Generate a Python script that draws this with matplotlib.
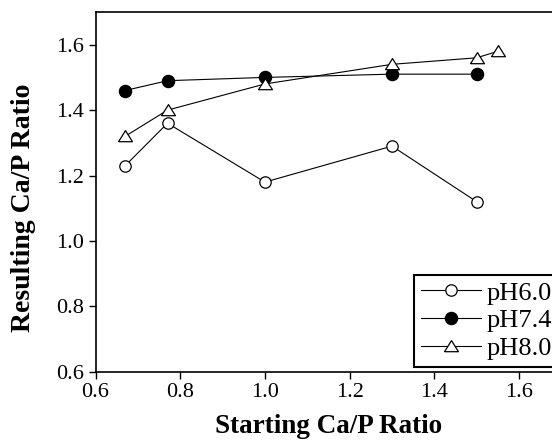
import matplotlib
matplotlib.use("Agg")
import matplotlib.pyplot as plt

plt.rcParams['font.family'] = ['Liberation Serif', 'DejaVu Serif']

# data
x_start = [0.67, 0.77, 1.0, 1.3, 1.5]
ph60 = [1.23, 1.36, 1.18, 1.29, 1.12]
ph74 = [1.46, 1.49, 1.50, 1.51, 1.51]
x_start80 = [0.67, 0.77, 1.0, 1.3, 1.5, 1.55]
ph80 = [1.32, 1.40, 1.48, 1.54, 1.56, 1.58]
labels = ['pH6.0', 'pH7.4', 'pH8.0']
xticks = [0.6, 0.8, 1.0, 1.2, 1.4, 1.6]
yticks = [0.6, 0.8, 1.0, 1.2, 1.4, 1.6]

W, H = 552, 444
fig = plt.figure(figsize=(W / 100, H / 100), dpi=100)
# axes runs past the right edge of the picture, like the cropped scan
left, right, top, bottom = 95.5, 561.4, 12, 371.8
ax = fig.add_axes([left / W, 1 - bottom / H, (right - left) / W, (bottom - top) / H])

# flatter triangle than matplotlib's '^'
tri = [(-1, -0.75), (1, -0.75), (0, 0.85), (-1, -0.75)]

ax.plot(x_start, ph60, '-o', color='black', lw=0.8, ms=8.2, mfc='white', mec='black', mew=0.9, label=labels[0])
ax.plot(x_start, ph74, '-o', color='black', lw=0.8, ms=8.8, mfc='black', mec='black', mew=0.9, label=labels[1])
ax.plot(x_start80, ph80, '-', marker=tri, color='black', lw=0.8, ms=10, mfc='white', mec='black', mew=0.9, label=labels[2])

ax.set_xlim(0.6, 1.7)
ax.set_ylim(0.6, 1.7)
ax.set_xticks(xticks)
ax.set_yticks(yticks)
ax.set_xticklabels([f"{v:.1f}" for v in xticks])
ax.set_yticklabels([f"{v:.1f}" for v in yticks])
ax.tick_params(direction='out', length=5, width=1, labelsize=16, colors='black', pad=3)
for s in ax.spines.values():
    s.set_linewidth(1.2)

ax.set_xlabel('Starting Ca/P Ratio', fontsize=19.5, fontweight='bold', labelpad=9)
ax.set_ylabel('Resulting Ca/P Ratio', fontsize=20, fontweight='bold')
ax.yaxis.set_label_coords(-0.128, 0.457)

leg = ax.legend(loc='lower left', bbox_to_anchor=(1.353, 0.6156), bbox_transform=ax.transData,
                borderaxespad=0, fontsize=19, handlelength=2.27, handletextpad=0.23,
                labelspacing=0.16, fancybox=False, framealpha=1, edgecolor='black',
                borderpad=0.25)
leg.get_frame().set_linewidth(1.5)

fig.savefig('out.png', dpi=100)
